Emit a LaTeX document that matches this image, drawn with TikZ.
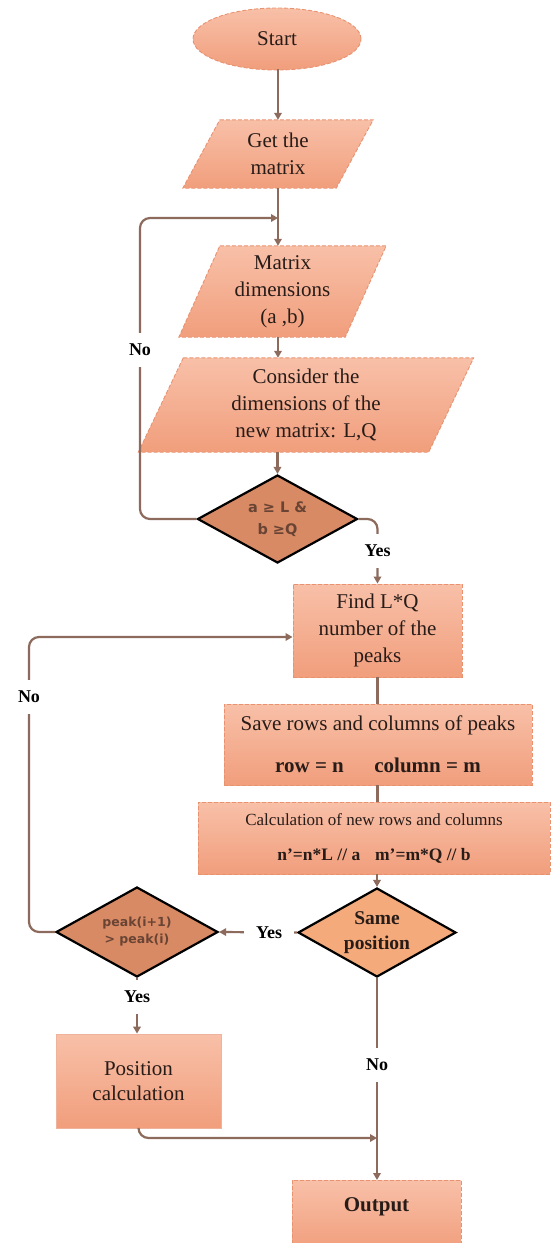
\documentclass[tikz,border=0pt]{standalone}
\usepackage{fontspec}
\setmainfont{Liberation Serif}
\newfontfamily\dvsans{DejaVu Sans}
\usetikzlibrary{shapes.geometric,arrows.meta,backgrounds}
\definecolor{boxtop}{RGB}{248,192,168}
\definecolor{boxbot}{RGB}{241,158,124}
\definecolor{boxborder}{RGB}{232,146,112}
\definecolor{decfill}{RGB}{216,138,100}
\definecolor{decfilltwo}{RGB}{244,170,122}
\definecolor{connc}{RGB}{140,106,92}
\definecolor{diamtext}{RGB}{105,68,52}
\definecolor{txt}{RGB}{40,28,24}
\tikzset{
  conn/.style={draw=connc, line width=2.2pt},
  arr/.style={conn, -{Triangle[length=7pt,width=7.5pt]}},
  boxstyle/.style={rectangle, top color=boxtop, bottom color=boxbot, draw=boxborder,
    dash pattern=on 4pt off 2pt, line width=0.9pt, text=txt,
    font=\fontsize{21}{27}\selectfont, align=center, inner sep=0pt},
  solidbox/.style={boxstyle, solid, draw=boxborder!70!white, line width=0.8pt},
  paratext/.style={rectangle, inner sep=0pt, text=txt,
    font=\fontsize{21}{27}\selectfont, align=center},
  parafill/.style={top color=boxtop, bottom color=boxbot, draw=boxborder,
    dash pattern=on 4pt off 2pt, line width=0.9pt},
  decdark/.style={diamond, aspect=1.8, fill=decfill, draw=black, line width=2.2pt,
    inner sep=0pt, text=diamtext, align=center},
  declight/.style={diamond, aspect=1.8, fill=decfilltwo, draw=black, line width=2.2pt,
    inner sep=0pt, text=txt, align=center,
    font=\bfseries\fontsize{19.5}{25}\selectfont},
  lbl/.style={fill=white, text=black, font=\bfseries\fontsize{18}{20}\selectfont,
    inner xsep=12pt, inner ysep=11pt}
}
\begin{document}
\begin{tikzpicture}[x=1pt,y=-1pt]
\useasboundingbox (0,0) rectangle (552,1243);

% nodes
\node[boxstyle, ellipse, minimum width=168pt, minimum height=62pt] (start) at (277,39) {Start};

\node[paratext, minimum width=153pt, minimum height=68pt] (get) at (278,154) {Get the\\matrix};
\node[paratext, minimum width=166pt, minimum height=91pt] (dims) at (282.5,291.5) {Matrix\\dimensions\\(a ,b)};
\node[paratext, minimum width=290pt, minimum height=94pt] (cons) at (306,405) {Consider the\\dimensions of the\\new matrix: L,Q};

\begin{scope}[on background layer]
\shadedraw[parafill] ([xshift=18.5pt]get.north west) -- ([xshift=18.5pt]get.north east)
  -- ([xshift=-18.5pt]get.south east) -- ([xshift=-18.5pt]get.south west) -- cycle;
\shadedraw[parafill] ([xshift=20.5pt]dims.north west) -- ([xshift=20.5pt]dims.north east)
  -- ([xshift=-20.5pt]dims.south east) -- ([xshift=-20.5pt]dims.south west) -- cycle;
\shadedraw[parafill] ([xshift=22.5pt]cons.north west) -- ([xshift=22.5pt]cons.north east)
  -- ([xshift=-22.5pt]cons.south east) -- ([xshift=-22.5pt]cons.south west) -- cycle;
\end{scope}

\node[decdark, minimum width=160pt, minimum height=88pt,
  font=\dvsans\bfseries\fontsize{14.5}{22}\selectfont] (d1) at (277.5,519) {a ≥ L \&\\b ≥Q};

\node[boxstyle, minimum width=169pt, minimum height=93pt] (find) at (377.5,630.5) {Find L*Q\\number of the\\peaks};

\node[boxstyle, minimum width=308pt, minimum height=81pt] (save) at (378,744.5)
  {Save rows and columns of peaks\\[15pt]\textbf{row = n\hspace{1.2em} column = m}};

\node[boxstyle, minimum width=352pt, minimum height=72pt, font=\fontsize{17}{21}\selectfont] (calc) at (374,838)
  {Calculation of new rows and columns\\[14pt]{\bfseries\fontsize{17.5}{21}\selectfont n’=n*L // a\hspace{0.6em} m’=m*Q // b}};

\node[declight, minimum width=158pt, minimum height=89pt] (d2) at (377,932.5) {Same\\position};

\node[decdark, minimum width=162pt, minimum height=90pt,
  font=\dvsans\bfseries\fontsize{12.5}{17}\selectfont] (d3) at (137,932) {peak(i+1)\\> peak(i)};

\node[solidbox, minimum width=165pt, minimum height=94pt, font=\fontsize{21}{25}\selectfont] (pos) at (138.5,1081) {Position\\calculation};

\node[boxstyle, anchor=north, minimum width=169pt, minimum height=70pt, text depth=21pt,
  font=\bfseries\fontsize{21}{25}\selectfont] (out) at (376.5,1180) {Output};

% helper coordinates
\coordinate (c0) at (140,218);
\coordinate (c1) at (29,637);
\coordinate (c2) at (138,1138);

% connectors
\draw[arr] (start.south) -- (get.south |- start.south) -- (get.north);
\draw[arr] (get.south) -- (get.south |- dims.north);
\draw[arr] (get.south |- dims.south) -- (get.south |- cons.north);
\draw[arr] (d1.north |- cons.south) -- (d1.north);
\draw[arr, rounded corners=10pt] (d1.west) -- (d1.west -| c0) -- (c0) -- (c0 -| get.south);
\draw[arr, rounded corners=10pt] (d1.east) -- (d1.east -| find.north) -- (find.north);
\draw[conn] (find.south) -- (find.south |- save.north);
\draw[conn] (find.south |- save.south) -- (find.south |- calc.north);
\draw[arr] (d2.north |- calc.south) -- (d2.north);
\draw[arr] (d2.west) -- (d3.east);
\draw[arr, rounded corners=10pt] (d3.west) -- (d3.west -| c1) -- (c1) -- (c1 -| find.west);
\draw[arr] (d3.south) -- (d3.south |- pos.north);
\draw[arr] (d2.south) -- (d2.south |- out.north);
\draw[arr, rounded corners=10pt] (pos.south) -- (pos.south |- c2) -- (c2 -| d2.south);

% labels
\node[lbl] (no1) at (140,350) {No};
\node[lbl] (yes1) at (377.5,551) {Yes};
\node[lbl] (no2) at (29,697) {No};
\node[lbl] (yes2) at (269,933) {Yes};
\node[lbl] (yes3) at (137,997) {Yes};
\node[lbl] (no3) at (377,1065) {No};
\end{tikzpicture}
\end{document}
